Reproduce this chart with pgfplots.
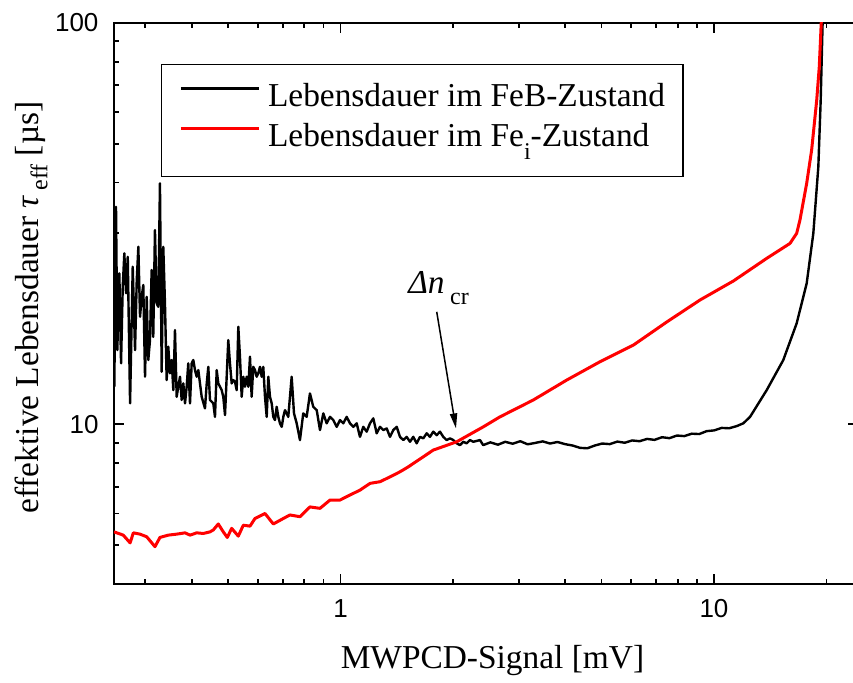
\documentclass[border=0pt]{standalone}
\usepackage{fontspec}
\setmainfont{Liberation Serif}
\newfontfamily\arial{Liberation Sans}
\usepackage{pgfplots}
\pgfplotsset{compat=1.18}
\usetikzlibrary{arrows.meta}
\newcommand{\lowsub}[2]{\raisebox{#1}{\fontsize{12}{12}\selectfont #2}}

\begin{document}
\fontsize{16.7}{20}\selectfont
\begin{tikzpicture}
\begin{loglogaxis}[
  name=ax,
  scale only axis,
  width=372pt, height=280.75pt,
  xmin=0.2475, xmax=24.3,
  ymin=4, ymax=100,
  xtick={1,10}, xticklabels={1,10},
  ytick={10,100}, yticklabels={10,100},
  minor xtick={0.3,0.4,0.5,0.6,0.7,0.8,0.9,2,3,4,5,6,7,8,9,20},
  minor ytick={5,6,7,8,9,20,30,40,50,60,70,80,90},
  tick align=inside,
  major tick length=5.25pt, minor tick length=2.65pt,
  axis line style={line width=1pt},
  every tick/.append style={black, line width=0.9pt},
  ticklabel style={font=\arial\fontsize{13}{15}\selectfont},
  xticklabel style={yshift=-2pt},
  yticklabel style={xshift=-2pt},
  xlabel={MWPCD-Signal [mV]},
  ylabel={effektive Lebensdauer {\itshape τ}\,\lowsub{-4.5pt}{eff} [µs]},
  label style={font=\fontsize{16.7}{20}\selectfont},
  xlabel style={at={(axis description cs:0.5087,-0.1501)}, anchor=base},
  ylabel style={at={(axis description cs:-0.1017,0.4928)}, anchor=base},
  legend style={at={(0.0628,0.9264)}, anchor=north west, draw=black, line width=0.6pt,
    inner xsep=9pt, inner ysep=9.5pt, font=\fontsize{16.7}{20}\selectfont,
    row sep=3pt, cells={anchor=west},
    nodes={inner sep=0pt, text height=11.5pt, text depth=5.5pt}},
  legend image code/.code={\draw[#1] (0pt,6pt) -- (38.85pt,6pt);},
]
\addplot[black, line width=1.2pt, line join=round] coordinates {
(0.248,12.41) (0.2506,34.8) (0.2526,15.31) (0.2558,23.77) (0.2585,14.19)
(0.2612,22.01) (0.2638,26.66) (0.2666,21.20) (0.2694,26.14) (0.2733,11.28)
(0.2778,24.69) (0.2818,15.31) (0.2848,22.87) (0.2876,27.68) (0.2906,18.53)
(0.2936,20.78) (0.2965,22.23) (0.2997,13.14) (0.3028,20.78) (0.3058,14.46)
(0.3090,16.21) (0.3122,24.23) (0.3153,16.52) (0.3186,30.46) (0.3220,20.01)
(0.3252,19.63) (0.3286,39.82) (0.3321,13.52) (0.3354,27.68) (0.3389,20.01)
(0.3425,12.89) (0.3459,15.61) (0.3495,13.40) (0.3532,14.46) (0.3568,12.17)
(0.3605,17.17) (0.3643,11.71) (0.3679,12.41) (0.3718,13.14) (0.3757,11.50)
(0.3795,12.65) (0.3835,11.28) (0.3875,12.41) (0.3913,14.19) (0.3955,11.28)
(0.3996,14.19) (0.4036,14.46) (0.4078,13.65) (0.4121,13.14) (0.4162,13.65)
(0.4250,11.71) (0.4337,10.96) (0.4384,12.65) (0.4427,13.91) (0.4473,11.50)
(0.4565,11.28) (0.4613,10.44) (0.4662,13.65) (0.4708,12.65) (0.4758,12.41)
(0.4807,12.17) (0.4855,11.71) (0.4907,10.55) (0.4958,13.14) (0.5007,16.21)
(0.5059,14.19) (0.5113,12.65) (0.5164,12.89) (0.5218,12.77) (0.5273,12.17)
(0.5326,17.50) (0.5381,14.74) (0.5438,11.71) (0.5493,13.14) (0.5550,12.41)
(0.5609,13.14) (0.5665,12.41) (0.5724,14.74) (0.5783,11.71) (0.5841,13.91)
(0.5903,13.65) (0.5965,13.14) (0.6024,13.40) (0.6088,13.91) (0.6152,13.14)
(0.6213,13.91) (0.6279,11.71) (0.6345,10.44) (0.6408,13.14) (0.6475,11.71)
(0.6544,11.28) (0.6609,10.44) (0.6678,10.25) (0.6749,11.06) (0.6816,10.44)
(0.6887,10.06) (0.6961,9.86) (0.7030,10.44) (0.7104,10.85)
(0.7248,10.44) (0.7401,13.14) (0.7508,10.65) (0.7634,10.06) (0.7790,9.14)
(0.7950,10.65) (0.8118,10.44) (0.8284,11.94) (0.8455,11.06) (0.8636,10.85)
(0.8814,9.68) (0.8994,10.65) (0.9185,10.06) (0.9374,10.44) (0.9566,10.25)
(0.9768,9.86) (0.9970,10.25) (1.0174,10.06) (1.0390,10.44) (1.0602,10.06)
(1.0822,9.86) (1.1050,10.06) (1.1276,9.31) (1.1508,9.86) (1.1752,9.59)
(1.1995,10.06) (1.2241,10.35) (1.2500,9.50) (1.2759,9.86) (1.3020,9.68)
(1.3296,9.77) (1.3569,9.31) (1.3849,9.68) (1.4142,9.86) (1.4432,9.31)
(1.4728,9.14) (1.5040,9.31) (1.5351,9.05) (1.5665,9.31) (1.5996,8.97)
(1.6327,9.31) (1.6661,9.23) (1.7014,9.50) (1.7362,9.31) (1.7721,9.59)
(1.8097,9.40) (1.8467,9.59) (1.8845,9.31) (1.9244,9.14) (1.9643,9.23)
(2.0045,9.14) (2.0469,8.97) (2.0888,8.88) (2.1320,9.05) (2.1771,8.97)
(2.2217,9.14) (2.2677,9.05) (2.3632,9.14) (2.41,8.88) (2.52,9.02)
(2.64,8.90) (2.76,9.05) (2.89,8.95) (3.03,9.08) (3.17,8.92)
(3.32,8.99) (3.48,9.07) (3.64,8.96) (3.81,9.04) (3.99,8.93)
(4.18,8.86) (4.38,8.74) (4.58,8.72) (4.80,8.86) (5.02,8.96)
(5.26,8.93) (5.51,9.06) (5.77,9.00) (6.04,9.12) (6.32,9.08)
(6.62,9.20) (6.93,9.15) (7.26,9.29) (7.60,9.24) (7.96,9.38)
(8.33,9.35) (8.72,9.48) (9.13,9.46) (9.56,9.62) (10.01,9.66)
(10.48,9.80) (10.98,9.78) (11.5,9.90) (11.98,10.06) (12.49,10.44)
(13.84,12.17) (15.33,14.46) (16.65,17.85) (17.71,22.44) (18.45,29.89)
(19.03,43.80) (19.31,64.2) (19.54,100.6)
};
\addlegendentry{\hspace*{4pt}Lebensdauer im FeB-Zustand}
\addplot[red, line width=1.5pt, line join=round] coordinates {
(0.2475,5.40) (0.2621,5.30) (0.2733,5.07) (0.2789,5.37) (0.2906,5.33)
(0.3028,5.25) (0.3186,4.96) (0.3286,5.23) (0.3459,5.30) (0.3643,5.33)
(0.3835,5.37) (0.3955,5.30) (0.4121,5.37) (0.4292,5.35) (0.4473,5.40)
(0.4565,5.46) (0.4708,5.65) (0.4855,5.40) (0.4976,5.23) (0.5113,5.51)
(0.5326,5.27) (0.5493,5.61) (0.5724,5.58) (0.5903,5.83) (0.6279,6.00)
(0.6609,5.65) (0.7030,5.83) (0.7322,5.95) (0.7790,5.89) (0.8284,6.23)
(0.8814,6.18) (0.9374,6.48) (0.9970,6.48) (1.0602,6.67) (1.1276,6.86)
(1.1995,7.13) (1.2759,7.20) (1.3569,7.40) (1.4432,7.62) (1.5190,7.84)
(1.772,8.63) (2.047,9.05) (2.412,9.86) (2.673,10.44) (3.283,11.50)
(4.033,12.89) (4.952,14.32) (6.081,15.75) (7.470,17.98) (9.174,20.40)
(11.27,22.75) (13.84,25.90) (15.98,28.22) (16.65,29.89) (16.99,32.27)
(17.71,39.82) (18.26,48.19) (18.84,64.2) (19.14,77.7) (19.38,100.5)
};
\addlegendentry{\hspace*{4pt}Lebensdauer im Fe\lowsub{-6.5pt}{i}-Zustand}
\node[anchor=base west, font=\fontsize{16.7}{20}\selectfont, inner sep=0pt] at (axis cs:1.516,21.23) {{\itshape Δn}\,\lowsub{-5.5pt}{cr}};
\draw[line width=0.75pt, -{Triangle[length=7.5pt,width=3.6pt]}] (axis cs:1.810,19.07) -- (axis cs:2.038,9.77);
\end{loglogaxis}
\pgfresetboundingbox
\path ([xshift=-57pt,yshift=-48.9pt]ax.south west) rectangle ([xshift=-2.5pt,yshift=11.35pt]ax.north east);
\end{tikzpicture}
\end{document}
